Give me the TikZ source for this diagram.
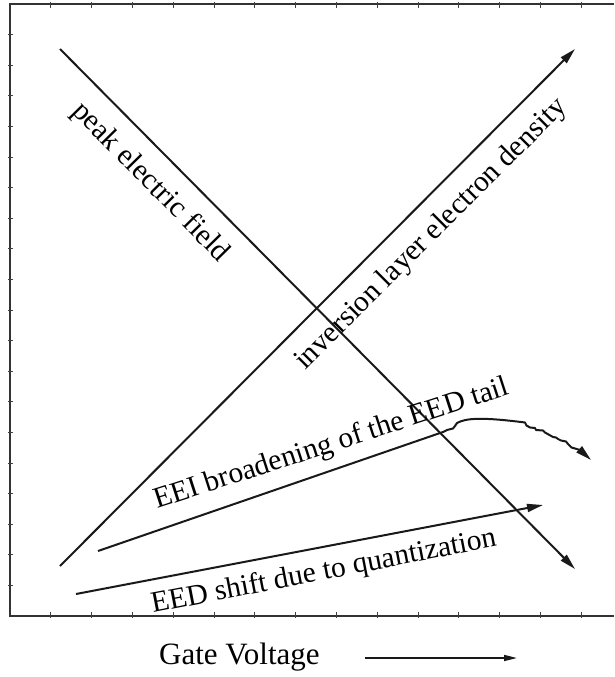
\documentclass[tikz,border=0pt]{standalone}
\usepackage{fontspec}
\setmainfont{Liberation Serif}
\usetikzlibrary{arrows.meta}
\begin{document}
\begin{tikzpicture}[x=1pt,y=-1pt,
  frame/.style={line width=2.6pt, black!80},
  tickmark/.style={line width=1pt, black!75},
  curve/.style={line width=2pt, black!90, line join=round},
  arr/.style={-{Triangle[length=16pt,width=8pt]}},
  smallarr/.style={line width=1.6pt, black!90, -{Triangle[length=13pt,width=6pt]}},
  lbl/.style={font=\fontsize{29.5}{32}\selectfont, inner sep=0pt}]
\useasboundingbox (0,0) rectangle (614,677);
% frame
\coordinate (fTL) at (10,4);
\coordinate (fBL) at (10,616);
\coordinate (fTR) at (614,4);
\coordinate (fBR) at (614,616);
\draw[frame] (fTR) -- (fTL) -- (fBL) -- (fBR);
\foreach \k in {1,...,14} {
  \draw[tickmark] ({10+40.8*\k},2) -- ({10+40.8*\k},8);
  \draw[tickmark] ({10+40.8*\k},612) -- ({10+40.8*\k},618);
}
\foreach \k in {1,...,19} {
  \draw[tickmark] (8,{4+30.6*\k}) -- (13,{4+30.6*\k});
}
% main lines
\coordinate (pefS) at (60,49);
\coordinate (pefE) at (575,569);
\coordinate (invS) at (60,566);
\coordinate (invE) at (575,49);
\draw[curve, arr] (pefS) -- (pefE);
\draw[curve, arr] (invS) -- (invE);
% EED shift line
\coordinate (eedS) at (76,594);
\coordinate (eedE) at (543,505);
\draw[curve, arr] (eedS) -- (eedE);
% EEI broadening line with wiggly tail
\coordinate (eeiS) at (98,551);
\coordinate (eeiK) at (443,432);
\coordinate (eeiE) at (591,460);
\draw[curve, arr] (eeiS) -- (eeiK) -- (447,430) -- (453,428.5) -- (455,426) -- (457,423)
  .. controls (466,418) and (482,417) .. (525,422.5)
  -- (526.5,425.5) -- (530,427.5) -- (535,428) -- (536,430) -- (543,430.5)
  -- (545,432.5) -- (553,437) -- (556,437.5) -- (558,439) -- (561,440.5)
  -- (566,441.5) -- (568,444) -- (571.5,447.5) -- (575,448.5) -- (580,450) -- (eeiE);
% labels
\node[lbl, anchor=base west, rotate=-45.5] (tPef) at (71,112) {peak electric field};
\node[lbl, anchor=base west, rotate=45] (tInv) at (305,371) {inversion layer electron density};
\node[lbl, anchor=base west, rotate=18] (tEei) at (157,509) {EEI broadening of the EED tail};
\node[lbl, anchor=base west, rotate=11] (tEed) at (153,613) {EED shift due to quantization};
\node[lbl, font=\fontsize{31}{34}\selectfont, anchor=base west] (tGate) at (159,664) {Gate Voltage};
\coordinate (gS) at (365,658);
\coordinate (gE) at (517,658);
\draw[smallarr] (gS) -- (gE);
\end{tikzpicture}
\end{document}
